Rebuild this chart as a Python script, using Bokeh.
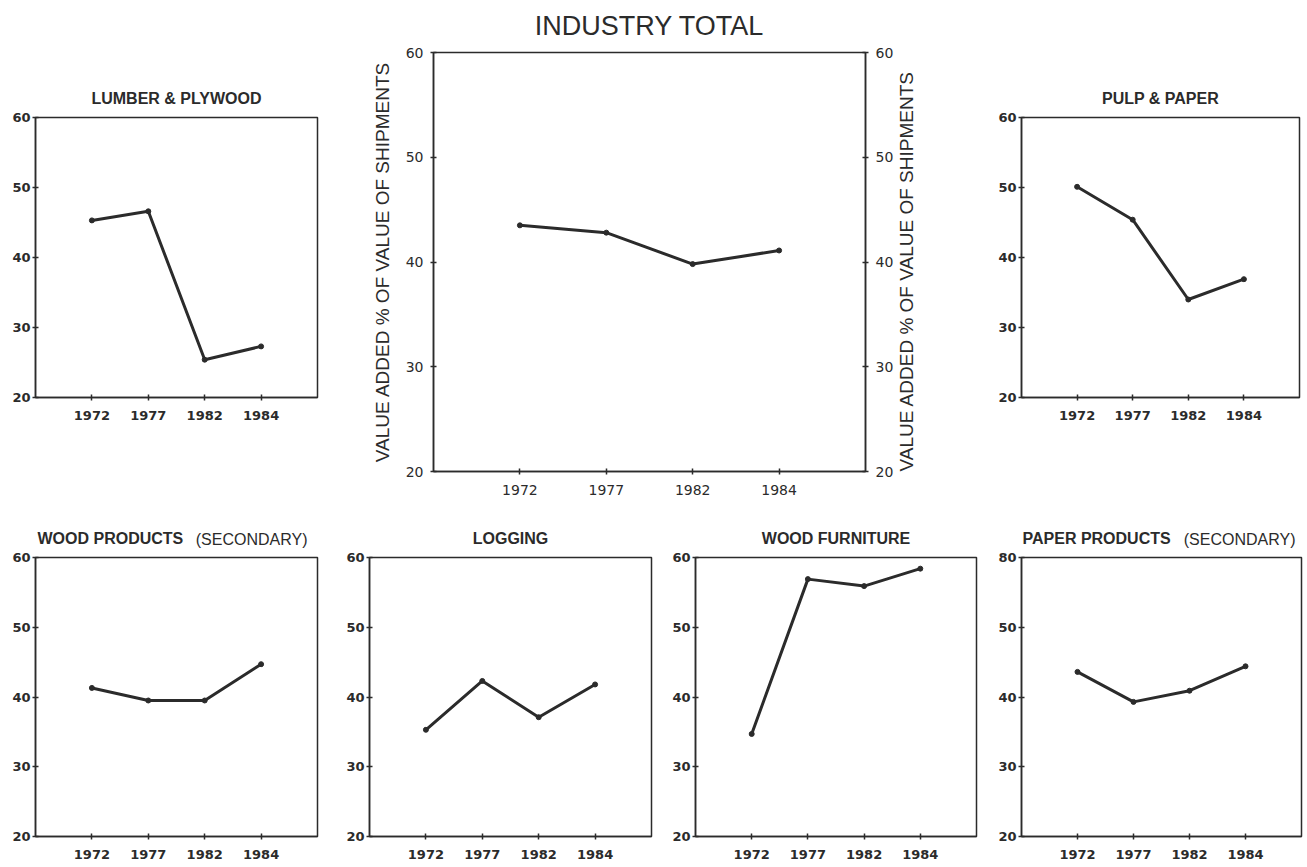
import math
from bokeh.plotting import figure
from bokeh.models import Range1d, FixedTicker, LinearAxis, Title, Spacer
from bokeh.layouts import column, row
from bokeh.embed import file_html
from bokeh.resources import INLINE

# ---------------- data ----------------
years = ["1972", "1977", "1982", "1984"]
y_ticks = [20, 30, 40, 50, 60]

industry_total = [43.5, 42.8, 39.8, 41.1]
lumber_plywood = [45.3, 46.6, 25.4, 27.3]
pulp_paper = [50.1, 45.4, 34.0, 36.9]
wood_products = [41.3, 39.5, 39.5, 44.7]
logging = [35.3, 42.3, 37.1, 41.8]
wood_furniture = [34.7, 56.9, 55.9, 58.4]
paper_products = [43.6, 39.3, 40.9, 44.4]
paper_products_top_label = {60: "80"}  # label as printed on the original

y_title = "VALUE ADDED % OF VALUE OF SHIPMENTS"

INK = "#2b2b2b"
TFONT = "Liberation Sans"
xs = list(range(1, len(years) + 1))


def panel(vals, w, h, bl, br, bt, bb, style="bold", size="13px",
          ystand=2, overrides=None, right_axis=False):
    p = figure(width=w, height=h, x_range=Range1d(0, len(years) + 1),
               y_range=Range1d(y_ticks[0], y_ticks[-1]), title=None,
               output_backend="svg", toolbar_location=None,
               min_border_left=bl, min_border_right=br,
               min_border_top=bt, min_border_bottom=bb)
    p.background_fill_color = "white"
    p.border_fill_color = "white"
    p.outline_line_color = INK
    p.outline_line_width = 1.5
    p.xgrid.visible = False
    p.ygrid.visible = False
    if right_axis:
        p.add_layout(LinearAxis(), "right")
    p.xaxis.ticker = FixedTicker(ticks=xs)
    p.xaxis.major_label_overrides = {x: y for x, y in zip(xs, years)}
    p.yaxis.ticker = FixedTicker(ticks=y_ticks)
    if overrides:
        p.yaxis.major_label_overrides = overrides
    for ax in p.axis:
        ax.axis_line_color = INK
        ax.axis_line_width = 1.5
        ax.major_tick_line_color = INK
        ax.major_tick_line_width = 1.5
        ax.major_tick_in = 3
        ax.major_tick_out = 3
        ax.minor_tick_line_color = None
        ax.major_label_text_font = "DejaVu Sans"
        ax.major_label_text_font_style = style
        ax.major_label_text_font_size = size
        ax.major_label_text_color = INK
    p.yaxis.major_label_standoff = ystand
    p.xaxis.major_label_standoff = 10
    p.line(xs, vals, line_color=INK, line_width=3)
    p.scatter(xs, vals, size=5, fill_color=INK, line_color=INK)
    return p


def add_title(p, text, style="bold", size="16px", align="center", offset=0,
              standoff=22, valign="bottom"):
    # titles added first sit closest to the frame
    p.add_layout(Title(text=text, align=align, offset=offset, standoff=standoff,
                       vertical_align=valign, text_font=TFONT,
                       text_font_style=style, text_font_size=size,
                       text_color=INK), "above")


# ---------------- top row (height 514) ----------------
p_lum = panel(lumber_plywood, 360, 375, 35, 43, 52, 43)
add_title(p_lum, "LUMBER & PLYWOOD")
col_lum = column(Spacer(width=360, height=65), p_lum, Spacer(width=360, height=74))

p_ind = panel(industry_total, 570, 514, 73, 63, 52, 43,
              style="normal", size="14px", ystand=7, right_axis=True)
add_title(p_ind, "INDUSTRY TOTAL", style="normal", size="27px",
          standoff=20, valign="top")
left_ax, right_ax = p_ind.yaxis[0], p_ind.yaxis[1]
for ax in (left_ax, right_ax):
    ax.axis_label = y_title
    ax.axis_label_text_font = TFONT
    ax.axis_label_text_font_style = "normal"
    ax.axis_label_text_font_size = "19px"
    ax.axis_label_text_color = INK
left_ax.axis_label_standoff = 10
right_ax.axis_label_standoff = 10
right_props = right_ax.properties()
if "axis_label_orientation" in right_props:
    right_ax.axis_label_orientation = math.pi / 2
    right_ax.axis_label_text_align = "left"
    right_ax.axis_label_text_baseline = "middle"
    if "axis_label_align" in right_props:
        right_ax.axis_label_align = "start"

p_pulp = panel(pulp_paper, 375, 375, 91, 6, 52, 43)
add_title(p_pulp, "PULP & PAPER")
col_pulp = column(Spacer(width=375, height=65), p_pulp, Spacer(width=375, height=74))

# ---------------- bottom row (height 352) ----------------
p_wood = panel(wood_products, 335, 352, 35, 18, 43, 30)
add_title(p_wood, "WOOD PRODUCTS", align="left", offset=2)
add_title(p_wood, "(SECONDARY)", style="normal", align="right", offset=10,
          standoff=-63)

p_log = panel(logging, 325, 352, 34, 9, 43, 30)
add_title(p_log, "LOGGING")

p_furn = panel(wood_furniture, 325, 352, 35, 9, 43, 30)
add_title(p_furn, "WOOD FURNITURE")

p_pap = panel(paper_products, 320, 352, 36, 4, 43, 30,
              overrides=paper_products_top_label)
add_title(p_pap, "PAPER PRODUCTS", align="left", offset=1)
add_title(p_pap, "(SECONDARY)", style="normal", align="right", offset=6,
          standoff=-63)

layout = column(row(col_lum, p_ind, col_pulp), row(p_wood, p_log, p_furn, p_pap))

open("out.html", "w").write(file_html(layout, INLINE))
